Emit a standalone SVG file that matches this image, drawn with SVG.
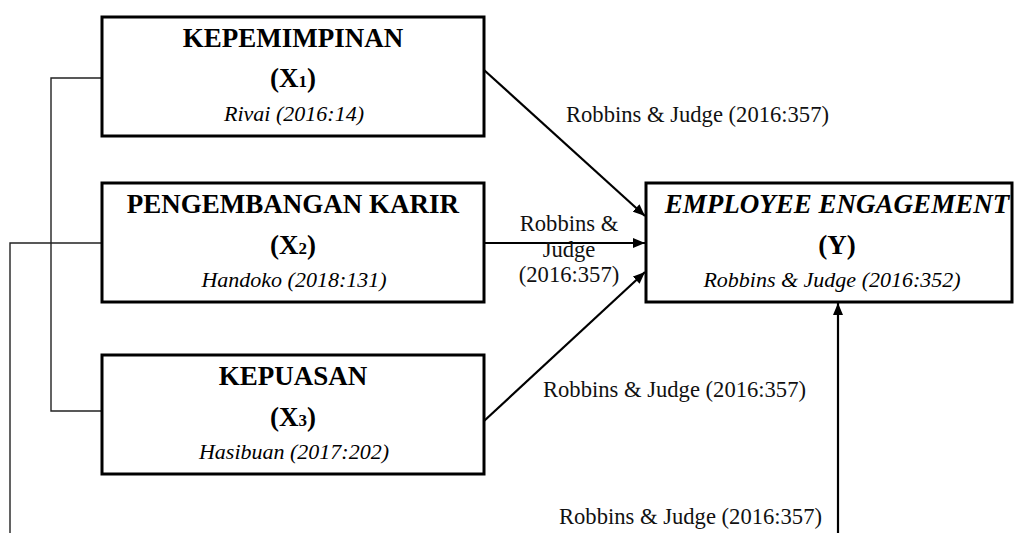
<svg xmlns="http://www.w3.org/2000/svg" width="1015" height="533" viewBox="0 0 1015 533">
<style>
.box{fill:#fff;stroke:#000;stroke-width:3}
.t{font-family:"Liberation Serif","Times New Roman",serif;fill:#000;text-anchor:middle}
.title{font-size:27px;font-weight:bold}
.var{font-size:27px;font-weight:bold}
.sub{font-size:17px}
.ref{font-size:22px;font-style:italic}
.lbl{font-family:"Liberation Serif","Times New Roman",serif;font-size:22.6px;fill:#111}
.arr{stroke:#000;stroke-width:2.2;fill:none;marker-end:url(#ah)}
.thin{stroke:#222;stroke-width:1.4;fill:none}
</style>
<defs>
<marker id="ah" viewBox="0 0 12 10" refX="12" refY="5" markerWidth="12" markerHeight="10" markerUnits="userSpaceOnUse" orient="auto">
<path d="M0,0 L12,5 L0,10 z" fill="#000"/>
</marker>
</defs>
<rect width="1015" height="533" fill="#fff"/>
<g id="connectors">
<polyline class="thin" points="102,78 51,78 51,411 102,411"/>
<polyline class="thin" points="102,243 10,243 10,533"/>
<line class="arr" x1="484" y1="70" x2="645" y2="216"/>
<line class="arr" x1="484" y1="243" x2="645" y2="243"/>
<line class="arr" x1="484" y1="421" x2="645" y2="272"/>
<line class="arr" x1="838" y1="533" x2="838" y2="303"/>
<text class="lbl" x="566" y="122">Robbins &amp; Judge (2016:357)</text>
<text class="lbl" x="569" y="231" text-anchor="middle">Robbins &amp;</text>
<text class="lbl" x="569" y="257" text-anchor="middle">Judge</text>
<text class="lbl" x="569" y="282" text-anchor="middle">(2016:357)</text>
<text class="lbl" x="543" y="397">Robbins &amp; Judge (2016:357)</text>
<text class="lbl" x="559" y="524">Robbins &amp; Judge (2016:357)</text>
</g>
<g id="x1">
<rect class="box" x="102" y="17" width="382" height="119"/>
<text class="t title" x="293" y="47">KEPEMIMPINAN</text>
<text class="t var" x="293" y="87">(X<tspan class="sub">1</tspan>)</text>
<text class="t ref" x="294" y="121">Rivai (2016:14)</text>
</g>
<g id="x2">
<rect class="box" x="102" y="183" width="382" height="119"/>
<text class="t title" x="293" y="213">PENGEMBANGAN KARIR</text>
<text class="t var" x="293" y="254">(X<tspan class="sub">2</tspan>)</text>
<text class="t ref" x="294" y="287">Handoko (2018:131)</text>
</g>
<g id="x3">
<rect class="box" x="102" y="355" width="382" height="119"/>
<text class="t title" x="293" y="385">KEPUASAN</text>
<text class="t var" x="293" y="426">(X<tspan class="sub">3</tspan>)</text>
<text class="t ref" x="294" y="459">Hasibuan (2017:202)</text>
</g>
<g id="y">
<rect class="box" x="646" y="183" width="366" height="119"/>
<text class="t title" x="837" y="213" font-style="italic">EMPLOYEE ENGAGEMENT</text>
<text class="t var" x="837" y="254">(Y)</text>
<text class="t ref" x="832" y="287">Robbins &amp; Judge (2016:352)</text>
</g>
</svg>
